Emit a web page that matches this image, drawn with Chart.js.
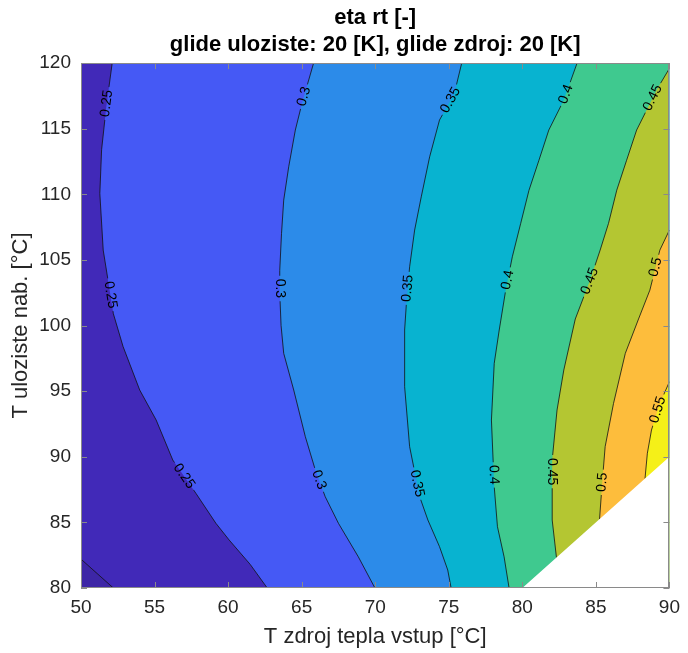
<!DOCTYPE html>
<html>
<head>
<meta charset="utf-8">
<script src="https://cdn.jsdelivr.net/npm/chart.js@4.4.0/dist/chart.umd.min.js"></script>
<style>
  html, body { margin: 0; padding: 0; background: #fff; }
  #wrap { width: 688px; height: 653px; }
</style>
</head>
<body>
<div id="wrap"><canvas id="etaChart"></canvas></div>
<script>
// contour levels of eta rt [-]
const levels = [0.2, 0.25, 0.3, 0.35, 0.4, 0.45, 0.5, 0.55];

// contour lines as [T zdroj, T uloziste] pairs (bottom -> top)
const c020 = [[50, 82.2], [51.1, 81.1], [52.2, 80]];
const c025 = [[62.66, 80], [61.5, 81.8], [60.07, 83.66], [59.17, 84.93], [57.82, 87.2], [56.24, 89.75],
              [55.11, 92.8], [53.99, 95.09], [52.86, 98.4], [52.2, 100.9], [51.51, 105.75], [51.28, 110.07],
              [51.4, 113.4], [51.7, 116.5], [52.12, 120]];
const c030 = [[69.98, 80], [68.85, 82.38], [67.5, 84.93], [66.6, 86.96], [65.93, 88.99], [65.25, 91.53],
              [64.46, 95.09], [63.78, 97.88], [63.6, 100.0], [63.51, 102.5], [63.51, 104.2], [63.63, 107.0],
              [63.78, 109.56], [64.12, 112.1], [64.57, 114.9], [65.02, 116.93], [65.81, 120]];
const c035 = [[75.16, 80], [74.93, 81.37], [74.37, 83.15], [73.58, 85.18], [73.02, 86.96], [72.34, 90.77],
              [72.0, 95.34], [72.0, 99.66], [72.12, 101.69], [72.34, 104.48], [72.68, 107.28], [73.13, 109.81],
              [73.7, 112.86], [74.37, 115.66], [75.38, 117.69], [75.88, 120]];
const c040 = [[79.1, 80], [78.76, 82.38], [78.31, 84.67], [78.09, 87.72], [77.9, 92.8], [78.09, 97.12],
              [78.43, 99.66], [78.87, 102.7], [79.32, 105.24], [79.89, 107.79], [80.45, 110.3], [81.13, 112.6],
              [81.8, 114.9], [82.82, 117.18], [83.72, 120]];
const c045 = [[82.32, 82.32], [82.03, 85.18], [82.03, 89.75], [82.36, 93.56], [82.82, 96.61], [83.6, 100.5],
              [84.61, 103.47], [85.29, 105.75], [85.86, 107.79], [86.42, 110.32], [87.09, 112.6], [87.77, 114.9],
              [88.45, 116.42], [89.12, 117.94], [90, 119.6]];
const c050 = [[85.25, 85.25], [85.41, 87.72], [85.63, 90.77], [86.2, 94.07], [87.0, 97.88], [87.9, 100.5],
              [88.67, 102.7], [89.35, 105.75], [90, 107.28]];
const c055 = [[88.34, 88.34], [88.5, 90.27], [88.78, 92.04], [89.35, 94.07], [90, 95.72]];
const contours = [c020, c025, c030, c035, c040, c045, c050, c055];

// no data where T zdroj > T uloziste
const noDataEdge = [[80, 80], [90, 90]];

// inline contour labels
const labelLevels = [0.25, 0.3, 0.35, 0.4, 0.45, 0.25, 0.3, 0.35, 0.4, 0.45, 0.5, 0.25, 0.3, 0.35, 0.4, 0.45, 0.5, 0.55];
const labelX = [51.74, 65.2, 75.11, 82.82, 88.96, 51.85, 63.45, 72.23, 79.03, 84.39, 88.96, 56.96, 66.15, 72.9, 77.86, 82.14, 85.52, 89.39];
const labelY = [116.93, 117.43, 117.18, 117.69, 117.31, 102.32, 102.83, 102.83, 103.47, 103.47, 104.48, 88.48, 88.23, 87.97, 88.61, 88.86, 88.05, 93.51];

const xTicks = [50, 55, 60, 65, 70, 75, 80, 85, 90];
const yTicks = [80, 85, 90, 95, 100, 105, 110, 115, 120];
const xRange = [50, 90];
const yRange = [80, 120];

// parula-like band colours: below 0.2, 0.2-0.25, ..., above 0.55
const bandColors = ['#3d26a6', '#4129b8', '#4559f5', '#2c8be9', '#08b3d0', '#3fc98f', '#b4c632', '#fdbd3c', '#f5f018'];

const FONT = "'Liberation Sans', Arial, sans-serif";
const INK = '#262626';
const LABEL_FONT = '14px ' + FONT;

const toPts = arr => arr.map(p => ({ x: p[0], y: p[1] }));

// polygon of everything to the right of a contour line (higher values)
function regionAbove(line) {
  const pts = toPts(line);
  const first = pts[0], last = pts[pts.length - 1];
  if (last.y >= yRange[1]) pts.push({ x: xRange[1], y: yRange[1] });
  pts.push({ x: xRange[1], y: yRange[0] });
  pts.push({ x: first.x, y: yRange[0] });
  return pts;
}

function shape(data, color, order) {
  return { data, fill: 'shape', backgroundColor: color, borderColor: 'transparent', borderWidth: 0,
           pointRadius: 0, tension: 0, order };
}

const datasets = [];
datasets.push(shape([{ x: xRange[0], y: yRange[0] }, { x: xRange[0], y: yRange[1] },
                     { x: xRange[1], y: yRange[1] }, { x: xRange[1], y: yRange[0] }], bandColors[1], 100));
datasets.push(shape(toPts(c020).concat([{ x: xRange[0], y: yRange[0] }]), bandColors[0], 99));
for (let i = 1; i < contours.length; i++) {
  datasets.push(shape(regionAbove(contours[i]), bandColors[i + 1], 98 - i));
}
contours.forEach(c => {
  datasets.push({ data: toPts(c), isContour: true, fill: false, borderColor: '#111', borderWidth: 0.8,
                  pointRadius: 0, tension: 0, order: 2 });
});
datasets.push(shape(toPts(noDataEdge).concat([{ x: xRange[1], y: yRange[0] }]), '#ffffff', 1));

// contour label placement, snapped onto the line
let placed = [];
function placeLabels(chart) {
  const { ctx, scales: { x, y } } = chart;
  ctx.save();
  ctx.font = LABEL_FONT;
  placed = labelLevels.map((lv, i) => {
    const line = contours[levels.indexOf(lv)].map(p => [x.getPixelForValue(p[0]), y.getPixelForValue(p[1])]);
    const px = x.getPixelForValue(labelX[i]), py = y.getPixelForValue(labelY[i]);
    let best = null;
    for (let k = 0; k < line.length - 1; k++) {
      const [ax, ay] = line[k], [bx, by] = line[k + 1];
      const dx = bx - ax, dy = by - ay;
      let t = ((px - ax) * dx + (py - ay) * dy) / (dx * dx + dy * dy);
      t = Math.max(0, Math.min(1, t));
      const qx = ax + t * dx, qy = ay + t * dy;
      const d = (qx - px) ** 2 + (qy - py) ** 2;
      if (!best || d < best.d) best = { d, qx, qy, ang: Math.atan2(dy, dx) };
    }
    let ang = best.ang;
    if (ang > Math.PI / 2) ang -= Math.PI;
    if (ang <= -Math.PI / 2) ang += Math.PI;
    const text = String(lv);
    return { text, cx: best.qx, cy: best.qy, ang, w: ctx.measureText(text).width };
  });
  ctx.restore();
}

const contourLabels = {
  id: 'contourLabels',
  beforeDatasetsDraw(chart) { placeLabels(chart); },
  beforeDatasetDraw(chart, args) {
    if (!chart.data.datasets[args.index].isContour) return;
    const ctx = chart.ctx;
    ctx.save();
    ctx.beginPath();
    ctx.rect(0, 0, chart.width, chart.height);
    placed.forEach(l => {
      const hw = l.w / 2 + 3, hh = 7;
      const c = Math.cos(l.ang), s = Math.sin(l.ang);
      const corners = [[-hw, -hh], [hw, -hh], [hw, hh], [-hw, hh]];
      corners.forEach(([u, v], j) => {
        const X = l.cx + u * c - v * s, Y = l.cy + u * s + v * c;
        if (j === 0) ctx.moveTo(X, Y); else ctx.lineTo(X, Y);
      });
      ctx.closePath();
    });
    ctx.clip('evenodd');
  },
  afterDatasetDraw(chart, args) {
    if (chart.data.datasets[args.index].isContour) chart.ctx.restore();
  },
  afterDatasetsDraw(chart) {
    const ctx = chart.ctx;
    ctx.save();
    ctx.font = LABEL_FONT;
    ctx.fillStyle = '#000';
    ctx.textAlign = 'center';
    ctx.textBaseline = 'middle';
    placed.forEach(l => {
      ctx.save();
      ctx.translate(l.cx, l.cy);
      ctx.rotate(l.ang);
      ctx.fillText(l.text, 0, 0);
      ctx.restore();
    });
    ctx.restore();
  }
};

// MATLAB style box with inward ticks on all four sides
const frame = {
  id: 'frame',
  afterDraw(chart) {
    const { ctx, chartArea: a, scales: { x, y } } = chart;
    const len = 6;
    ctx.save();
    ctx.strokeStyle = '#8a8a8a';
    ctx.lineWidth = 1;
    ctx.beginPath();
    x.ticks.forEach(t => {
      const px = Math.round(x.getPixelForValue(t.value)) + 0.5;
      ctx.moveTo(px, a.bottom); ctx.lineTo(px, a.bottom - len);
      ctx.moveTo(px, a.top); ctx.lineTo(px, a.top + len);
    });
    y.ticks.forEach(t => {
      const py = Math.round(y.getPixelForValue(t.value)) + 0.5;
      ctx.moveTo(a.left, py); ctx.lineTo(a.left + len, py);
      ctx.moveTo(a.right, py); ctx.lineTo(a.right - len, py);
    });
    ctx.stroke();
    ctx.strokeRect(Math.round(a.left) + 0.5, Math.round(a.top) + 0.5,
                   Math.round(a.width) - 1, Math.round(a.height) - 1);
    ctx.restore();
  }
};

new Chart(document.getElementById('etaChart'), {
  type: 'line',
  data: { datasets },
  options: {
    responsive: true,
    maintainAspectRatio: false,
    animation: false,
    events: [],
    layout: { padding: { left: 0, right: 15, top: 0, bottom: 0 } },
    plugins: {
      legend: { display: false },
      tooltip: { enabled: false },
      title: {
        display: true,
        fullSize: false,
        text: ['eta rt [-]', 'glide uloziste: 20 [K], glide zdroj: 20 [K]'],
        color: '#000',
        font: { family: FONT, size: 22, weight: 'bold', lineHeight: 1.23 },
        padding: { top: 4, bottom: 5 }
      }
    },
    scales: {
      x: {
        type: 'linear',
        min: xRange[0],
        max: xRange[1],
        afterBuildTicks: s => { s.ticks = xTicks.map(v => ({ value: v })); },
        afterFit: s => { s.height = 65; },
        grid: { display: false, drawTicks: false },
        border: { display: false },
        ticks: { color: INK, font: { family: FONT, size: 19 }, padding: 8, maxRotation: 0, autoSkip: false },
        title: { display: true, text: 'T zdroj tepla vstup [°C]', color: INK,
                 font: { family: FONT, size: 22 }, padding: { top: 0, bottom: 3 } }
      },
      y: {
        type: 'linear',
        min: yRange[0],
        max: yRange[1],
        afterBuildTicks: s => { s.ticks = yTicks.map(v => ({ value: v })); },
        afterFit: s => { s.width = 81; },
        grid: { display: false, drawTicks: false },
        border: { display: false },
        ticks: { color: INK, font: { family: FONT, size: 19 }, padding: 10, autoSkip: false },
        title: { display: true, text: 'T uloziste nab. [°C]', color: INK,
                 font: { family: FONT, size: 22 }, padding: { top: 8, bottom: 0 } }
      }
    }
  },
  plugins: [contourLabels, frame]
});
</script>
</body>
</html>
